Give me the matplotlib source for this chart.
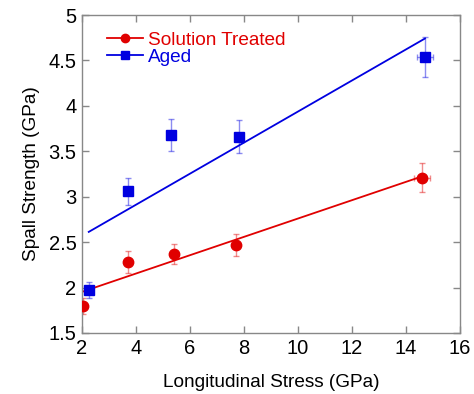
import numpy as np
import matplotlib
matplotlib.use("Agg")
import matplotlib.pyplot as plt

plt.rcParams['font.family'] = ['Liberation Sans', 'DejaVu Sans']

st_x = [2.05, 3.7, 5.4, 7.7, 14.6]
st_y = [1.80, 2.28, 2.37, 2.47, 3.21]
st_err = [0.09, 0.12, 0.11, 0.12, 0.16]
st_xerr = [0.05, 0.05, 0.05, 0.05, 0.3]

ag_x = [2.25, 3.7, 5.3, 7.8, 14.7]
ag_y = [1.97, 3.06, 3.68, 3.66, 4.54]
ag_err = [0.09, 0.15, 0.18, 0.18, 0.22]
ag_xerr = [0.05, 0.05, 0.05, 0.05, 0.3]

fig = plt.figure(figsize=(4.74, 3.94), dpi=100)
ax = fig.add_axes([82/474, 1-333/394, (460-82)/474, (333-15)/394])

red = '#e00000'
blue = '#0000e0'

ax.errorbar(st_x, st_y, yerr=st_err, xerr=st_xerr, fmt='none', ecolor=red, alpha=0.45,
            elinewidth=1, capsize=2)
ax.errorbar(ag_x, ag_y, yerr=ag_err, xerr=ag_xerr, fmt='none', ecolor=blue, alpha=0.45,
            elinewidth=1, capsize=2)

p1 = np.polyfit(st_x, st_y, 1)
p2 = np.polyfit(ag_x, ag_y, 1)
xs1 = np.array([min(st_x), max(st_x)])
xs2 = np.array([min(ag_x), max(ag_x)])
ax.plot(xs1, np.polyval(p1, xs1), color=red, lw=1.3)
ax.plot(xs2, np.polyval(p2, xs2), color=blue, lw=1.3)

ax.plot(st_x, st_y, 'o', color=red, ms=7.5, zorder=5)
ax.plot(ag_x, ag_y, 's', color=blue, ms=7.5, zorder=5)

h1, = ax.plot([], [], '-o', color=red, ms=6, lw=1.3)
h2, = ax.plot([], [], '-s', color=blue, ms=6, lw=1.3)
leg = ax.legend([h1, h2], ['Solution Treated', 'Aged'], loc='upper left',
                bbox_to_anchor=(0.03, 0.99), frameon=False, fontsize=13.7,
                handlelength=1.9, handletextpad=0.25, labelspacing=0.0, borderpad=0.2)
for t, c in zip(leg.get_texts(), [red, blue]):
    t.set_color(c)

ax.set_xlim(2, 16)
ax.set_ylim(1.5, 5)
ax.set_xticks(np.arange(2, 17, 2))
ax.set_yticks(np.arange(1.5, 5.01, 0.5))
ax.set_yticklabels(['1.5', '2', '2.5', '3', '3.5', '4', '4.5', '5'])
ax.tick_params(direction='in', top=True, right=True, length=5, width=1,
               color='#888888', labelsize=14.5, pad=4)
for s in ax.spines.values():
    s.set_color('#888888')
    s.set_linewidth(1)

ax.set_xlabel('Longitudinal Stress (GPa)', fontsize=13.7, labelpad=12)
ax.set_ylabel('Spall Strength (GPa)', fontsize=13.7, labelpad=6)

fig.savefig('out.png', dpi=100)
